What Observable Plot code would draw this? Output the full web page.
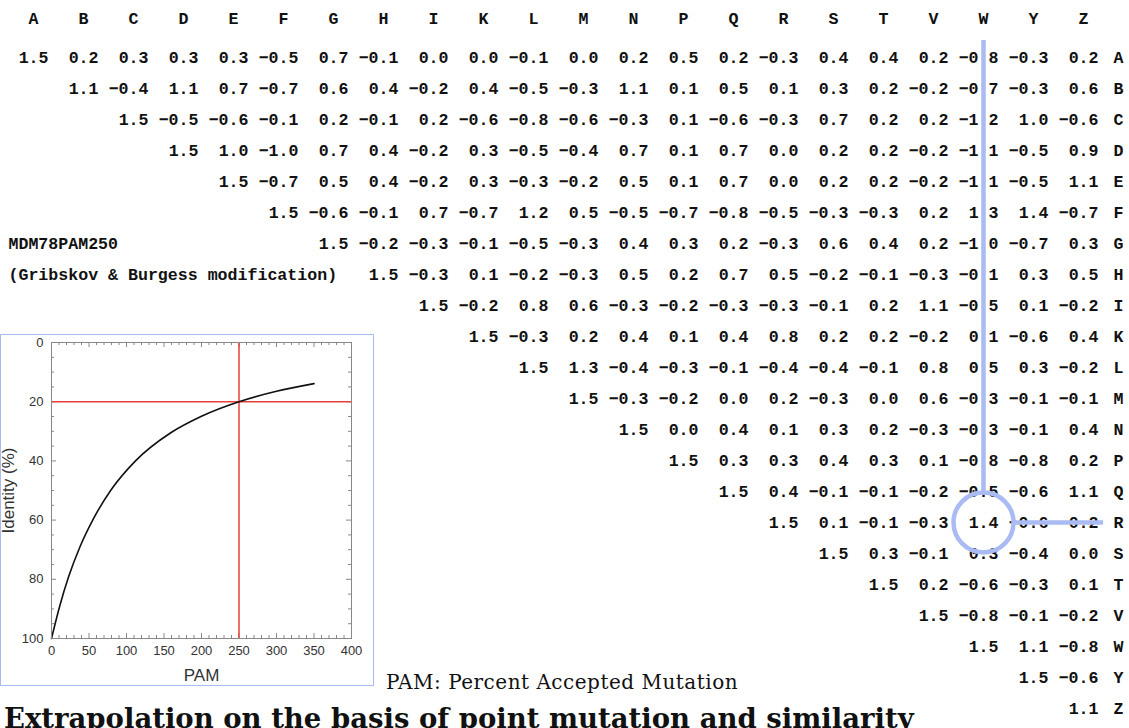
<!DOCTYPE html>
<html><head><meta charset="utf-8">
<script src="https://cdn.jsdelivr.net/npm/d3@7"></script>
<script src="https://cdn.jsdelivr.net/npm/@observablehq/plot@0.6"></script>
<style>
body{margin:0;background:#fff;}
#wrap{position:relative;width:1129px;height:728px;overflow:hidden;background:#fff;}
#main{position:absolute;left:0;top:0;}
#box{position:absolute;left:0;top:334px;width:372px;height:350px;border:1.5px solid #a9bbf2;background:#fff;}
#inset{position:absolute;left:0;top:334px;}
#pamnote{position:absolute;left:386px;top:670px;font-family:"DejaVu Serif",serif;font-size:20px;letter-spacing:0.5px;color:#111;white-space:nowrap;}
#title{position:absolute;left:4px;top:702px;font-family:"DejaVu Serif",serif;font-weight:bold;font-size:27.5px;color:#111;white-space:nowrap;}
svg{overflow:visible;}
</style>
</head><body>
<div id="wrap">
  <div id="main"></div>
  <div id="box"></div>
  <div id="inset"></div>
  <div id="pamnote">PAM: Percent Accepted Mutation</div>
  <div id="title">Extrapolation on the basis of point mutation and similarity</div>
</div>
<script>
// ---- matrix data (MDM78 PAM250, Gribskov & Burgess modification), upper triangle ----
const cols = ["A","B","C","D","E","F","G","H","I","K","L","M","N","P","Q","R","S","T","V","W","Y","Z"];
const rows = cols.slice();
const rowA = [1.5,0.2,0.3,0.3,0.3,-0.5,0.7,-0.1,0.0,0.0,-0.1,0.0,0.2,0.5,0.2,-0.3,0.4,0.4,0.2,-0.8,-0.3,0.2];
const rowB = [1.1,-0.4,1.1,0.7,-0.7,0.6,0.4,-0.2,0.4,-0.5,-0.3,1.1,0.1,0.5,0.1,0.3,0.2,-0.2,-0.7,-0.3,0.6];
const rowC = [1.5,-0.5,-0.6,-0.1,0.2,-0.1,0.2,-0.6,-0.8,-0.6,-0.3,0.1,-0.6,-0.3,0.7,0.2,0.2,-1.2,1.0,-0.6];
const rowD = [1.5,1.0,-1.0,0.7,0.4,-0.2,0.3,-0.5,-0.4,0.7,0.1,0.7,0.0,0.2,0.2,-0.2,-1.1,-0.5,0.9];
const rowE = [1.5,-0.7,0.5,0.4,-0.2,0.3,-0.3,-0.2,0.5,0.1,0.7,0.0,0.2,0.2,-0.2,-1.1,-0.5,1.1];
const rowF = [1.5,-0.6,-0.1,0.7,-0.7,1.2,0.5,-0.5,-0.7,-0.8,-0.5,-0.3,-0.3,0.2,1.3,1.4,-0.7];
const rowG = [1.5,-0.2,-0.3,-0.1,-0.5,-0.3,0.4,0.3,0.2,-0.3,0.6,0.4,0.2,-1.0,-0.7,0.3];
const rowH = [1.5,-0.3,0.1,-0.2,-0.3,0.5,0.2,0.7,0.5,-0.2,-0.1,-0.3,-0.1,0.3,0.5];
const rowI = [1.5,-0.2,0.8,0.6,-0.3,-0.2,-0.3,-0.3,-0.1,0.2,1.1,-0.5,0.1,-0.2];
const rowK = [1.5,-0.3,0.2,0.4,0.1,0.4,0.8,0.2,0.2,-0.2,0.1,-0.6,0.4];
const rowL = [1.5,1.3,-0.4,-0.3,-0.1,-0.4,-0.4,-0.1,0.8,0.5,0.3,-0.2];
const rowM = [1.5,-0.3,-0.2,0.0,0.2,-0.3,0.0,0.6,-0.3,-0.1,-0.1];
const rowN = [1.5,0.0,0.4,0.1,0.3,0.2,-0.3,-0.3,-0.1,0.4];
const rowP = [1.5,0.3,0.3,0.4,0.3,0.1,-0.8,-0.8,0.2];
const rowQ = [1.5,0.4,-0.1,-0.1,-0.2,-0.5,-0.6,1.1];
const rowR = [1.5,0.1,-0.1,-0.3,1.4,-0.6,0.2];
const rowS = [1.5,0.3,-0.1,0.3,-0.4,0.0];
const rowT = [1.5,0.2,-0.6,-0.3,0.1];
const rowV = [1.5,-0.8,-0.1,-0.2];
const rowW = [1.5,1.1,-0.8];
const rowY = [1.5,-0.6];
const rowZ = [1.1];
const rowValues = [rowA,rowB,rowC,rowD,rowE,rowF,rowG,rowH,rowI,rowK,rowL,rowM,rowN,rowP,rowQ,rowR,rowS,rowT,rowV,rowW,rowY,rowZ];

// highlighted pair
const highlightCol = "W";
const highlightRow = "R";

// ---- inset curve: PAM distance vs. identity (%) ----
const pamValues      = [0, 11, 23, 38, 56, 80, 112, 159, 200, 250, 300, 350];
const identityValues = [100, 89, 79, 69, 59.5, 49.6, 40, 30.5, 24.9, 20, 16.5, 13.9];
const pamMark = 250;
const identityMark = 20;
const xMajorTicks = [0,50,100,150,200,250,300,350,400];
const yMajorTicks = [0,20,40,60,80,100];

// ---- build cells ----
const cells = [];
rowValues.forEach((vals, i) => {
  vals.forEach((v, j) => cells.push({row: rows[i], col: cols[i + j], v}));
});
const fmt = v => v.toFixed(1).replace("-", "\u2212");

const mono = "'Liberation Mono','Courier New',monospace";
const blue = "#a9bbf2";
const FS = 16.6;

const main = Plot.plot({
  width: 1129, height: 728,
  marginTop: 30, marginRight: 21, marginLeft: 0, marginBottom: 0,
  x: {type: "point", domain: cols, range: [32, 1083], padding: 0},
  y: {type: "point", domain: rows, range: [48, 716], padding: 0},
  style: {background: "transparent", color: "#111"},
  marks: [
    Plot.axisX({anchor: "top", tickSize: 0, tickPadding: 7, label: null,
      fontSize: FS, fontWeight: "bold", fontFamily: mono}),
    Plot.axisY({anchor: "right", tickSize: 0, tickPadding: 5, label: null,
      fontSize: FS, fontWeight: "bold", fontFamily: mono}),
    Plot.text(cells, {x: "col", y: "row", text: d => fmt(d.v), textAnchor: "end", dx: 15,
      fontSize: FS, fontWeight: "bold", fontFamily: mono, fill: "#111"}),
    Plot.text([{t: "MDM78PAM250", row: "G"}, {t: "(Gribskov & Burgess modification)", row: "H"}],
      {y: "row", text: "t", frameAnchor: "left", textAnchor: "start", dx: 8,
       fontSize: FS, fontWeight: "bold", fontFamily: mono, fill: "#111"}),
    Plot.ruleX([{c: highlightCol, from: "A", to: highlightRow}],
      {x: "c", y1: "from", y2: "to", insetTop: -17, insetBottom: 30, stroke: blue, strokeWidth: 4.5}),
    Plot.ruleY([{r: highlightRow, from: highlightCol, to: "Z"}],
      {y: "r", x1: "from", x2: "to", insetLeft: 30, insetRight: -20, stroke: blue, strokeWidth: 4.5}),
    Plot.dot([{c: highlightCol, r: highlightRow}],
      {x: "c", y: "r", r: 30, stroke: blue, strokeWidth: 4.5, fill: "none"})
  ]
});
document.getElementById("main").append(main);

// ---- inset chart ----
const curve = pamValues.map((p, i) => ({pam: p, identity: identityValues[i]}));
const fw = 374 - 51 - 23, fh = 352 - 8 - 48;
const xMinor = d3.range(0, 401, 10).filter(d => d % 50 !== 0);
const yMinor = d3.range(0, 101, 5).filter(d => d % 20 !== 0);
const tickC = "#888";
const red = "#e8413c";
const inset = Plot.plot({
  width: 374, height: 352, marginLeft: 51, marginRight: 23, marginTop: 8, marginBottom: 48,
  x: {domain: [0, 400]},
  y: {domain: [0, 100], reverse: true},
  style: {background: "transparent", fontFamily: "'Liberation Sans',Arial,sans-serif", fontSize: "13px", color: "#333"},
  marks: [
    Plot.ruleX(xMajorTicks, {x: d => d, insetTop: fh - 5, stroke: tickC}),
    Plot.ruleX(xMajorTicks, {x: d => d, insetBottom: fh - 5, stroke: tickC}),
    Plot.ruleX(xMinor, {x: d => d, insetTop: fh - 3, stroke: tickC}),
    Plot.ruleX(xMinor, {x: d => d, insetBottom: fh - 3, stroke: tickC}),
    Plot.ruleY(yMajorTicks, {y: d => d, insetRight: fw - 5, stroke: tickC}),
    Plot.ruleY(yMajorTicks, {y: d => d, insetLeft: fw - 5, stroke: tickC}),
    Plot.ruleY(yMinor, {y: d => d, insetRight: fw - 3, stroke: tickC}),
    Plot.ruleY(yMinor, {y: d => d, insetLeft: fw - 3, stroke: tickC}),
    Plot.ruleY([identityMark], {stroke: red, strokeWidth: 1.5}),
    Plot.ruleX([pamMark], {stroke: red, strokeWidth: 1.5}),
    Plot.line(curve, {x: "pam", y: "identity", curve: "monotone-x", stroke: "#111", strokeWidth: 1.6}),
    Plot.frame({stroke: "#888"}),
    Plot.axisX({ticks: xMajorTicks, tickSize: 0, tickPadding: 7, label: null, fontSize: 13}),
    Plot.axisY({ticks: yMajorTicks, tickSize: 0, tickPadding: 8, label: null, fontSize: 13}),
    Plot.text(["PAM"], {frameAnchor: "bottom", lineAnchor: "middle", dy: 37, fontSize: 17, fill: "#333"}),
    Plot.text(["Identity (%)"], {frameAnchor: "left", textAnchor: "middle", lineAnchor: "middle",
      rotate: -90, dx: -43, fontSize: 17, fill: "#333"})
  ]
});
document.getElementById("inset").append(inset);
</script>
</body></html>
